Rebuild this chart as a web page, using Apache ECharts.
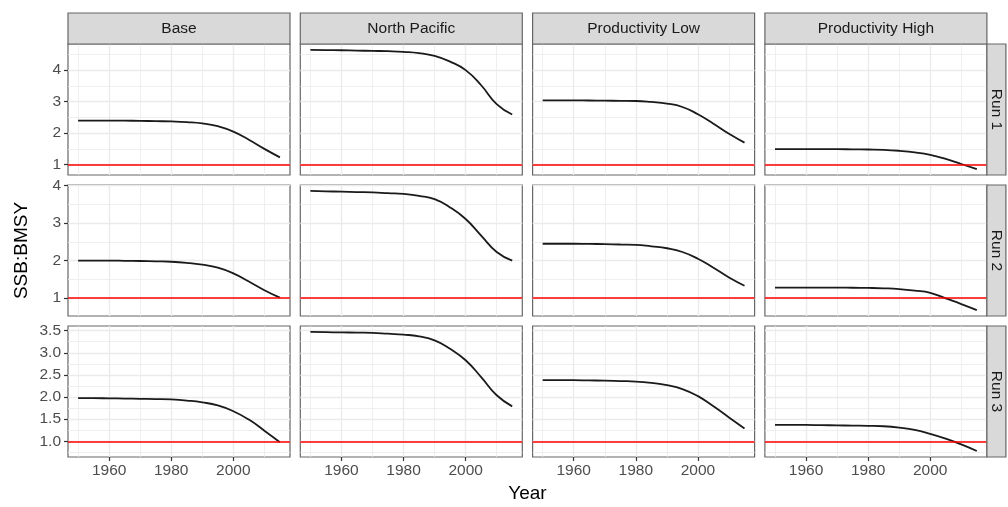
<!DOCTYPE html>
<html>
<head>
<meta charset="utf-8">
<script src="https://cdn.jsdelivr.net/npm/echarts@6/dist/echarts.min.js"></script>
<style>
  html, body { margin: 0; padding: 0; background: #ffffff; }
  #chart { width: 1008px; height: 507px; }
</style>
</head>
<body>
<div id="chart"></div>
<script>
// Years at which the stock trajectories are sampled
const years = [1950, 1955, 1960, 1965, 1970, 1975, 1980, 1985, 1990, 1995, 2000, 2005, 2010, 2015];

// Facet labels
const scenarios = ['Base', 'North Pacific', 'Productivity Low', 'Productivity High'];
const runs = ['Run 1', 'Run 2', 'Run 3'];

// SSB:BMSY trajectories, one array per scenario and run
const run1Base         = [2.40, 2.40, 2.40, 2.395, 2.39, 2.38, 2.37, 2.35, 2.31, 2.22, 2.05, 1.79, 1.50, 1.23];
const run1NorthPacific = [4.64, 4.635, 4.63, 4.62, 4.61, 4.60, 4.58, 4.54, 4.45, 4.27, 4.00, 3.52, 2.92, 2.59];
const run1ProdLow      = [3.04, 3.04, 3.04, 3.035, 3.03, 3.025, 3.02, 2.99, 2.94, 2.83, 2.60, 2.30, 1.98, 1.70];
const run1ProdHigh     = [1.49, 1.49, 1.49, 1.49, 1.49, 1.485, 1.48, 1.47, 1.44, 1.39, 1.31, 1.18, 1.02, 0.86];

const run2Base         = [2.00, 2.00, 2.00, 1.995, 1.99, 1.98, 1.97, 1.94, 1.89, 1.81, 1.66, 1.44, 1.21, 1.01];
const run2NorthPacific = [3.86, 3.85, 3.84, 3.83, 3.82, 3.80, 3.78, 3.73, 3.64, 3.42, 3.11, 2.67, 2.23, 2.00];
const run2ProdLow      = [2.45, 2.45, 2.45, 2.445, 2.44, 2.43, 2.42, 2.38, 2.33, 2.23, 2.05, 1.81, 1.55, 1.33];
const run2ProdHigh     = [1.28, 1.28, 1.28, 1.28, 1.28, 1.275, 1.27, 1.26, 1.24, 1.20, 1.14, 0.99, 0.84, 0.68];

const run3Base         = [1.975, 1.975, 1.97, 1.965, 1.96, 1.955, 1.945, 1.92, 1.88, 1.81, 1.68, 1.49, 1.24, 0.98];
const run3NorthPacific = [3.47, 3.465, 3.46, 3.455, 3.45, 3.43, 3.41, 3.37, 3.28, 3.09, 2.83, 2.45, 2.04, 1.79];
const run3ProdLow      = [2.38, 2.38, 2.38, 2.375, 2.37, 2.36, 2.35, 2.32, 2.27, 2.18, 2.02, 1.79, 1.54, 1.29];
const run3ProdHigh     = [1.37, 1.37, 1.37, 1.365, 1.36, 1.355, 1.35, 1.34, 1.31, 1.26, 1.17, 1.06, 0.93, 0.78];

// Reference level SSB = BMSY
const refLevel = 1;

// Tick labels and grid breaks
const xTicks = [1960, 1980, 2000];
const xMinor = [1950, 1970, 1990, 2010];
const yTicksRun1 = [1, 2, 3, 4];
const yTicksRun2 = [1, 2, 3, 4];
const yTicksRun3 = [1.0, 1.5, 2.0, 2.5, 3.0, 3.5];
const yMinorRun1 = [1.5, 2.5, 3.5, 4.5];
const yMinorRun2 = [1.5, 2.5, 3.5];
const yMinorRun3 = [0.75, 1.25, 1.75, 2.25, 2.75, 3.25];

const panelRows = [
  [run1Base, run1NorthPacific, run1ProdLow, run1ProdHigh],
  [run2Base, run2NorthPacific, run2ProdLow, run2ProdHigh],
  [run3Base, run3NorthPacific, run3ProdLow, run3ProdHigh]
];
const yTicksByRow = [yTicksRun1, yTicksRun2, yTicksRun3];
const yMinorByRow = [yMinorRun1, yMinorRun2, yMinorRun3];

// Layout of the facet grid
const FONT = '"Liberation Sans", Arial, Helvetica, sans-serif';
const colLeft = [68, 300.3, 532.6, 764.9];
const panelW = 222;
const rowTop = [44, 185, 326];
const panelH = 131;
const stripTop = 13;
const stripH = 31;
const stripW = 19;
const borderColor = '#666666';
const gridColor = '#EBEBEB';

// Axis extents with a 5% expansion, x shared, y free per row
function expand(lo, hi) {
  const r = hi - lo;
  return [lo - 0.05 * r, hi + 0.05 * r];
}
const xExt = expand(Math.min(...years), Math.max(...years));
const yExtByRow = panelRows.map(row => {
  const all = [].concat(...row, [refLevel]);
  return expand(Math.min(...all), Math.max(...all));
});

const grids = [], xAxes = [], yAxes = [], series = [], graphics = [];

panelRows.forEach((row, r) => {
  row.forEach((vals, c) => {
    const idx = grids.length;
    grids.push({
      left: colLeft[c], top: rowTop[r], width: panelW, height: panelH,
      show: true, backgroundColor: '#ffffff',
      borderColor: borderColor, borderWidth: 1.2,
      containLabel: false, outerBoundsMode: 'none'
    });
    const showX = r === panelRows.length - 1;
    const showY = c === 0;
    xAxes.push({
      type: 'value', gridIndex: idx, min: xExt[0], max: xExt[1],
      axisLine: { show: false, onZero: false },
      splitLine: { show: false },
      axisTick: { show: showX, customValues: xTicks, length: 4, lineStyle: { color: '#333333', width: 1.2 } },
      axisLabel: {
        show: showX, customValues: xTicks, margin: 6,
        color: '#4D4D4D', fontSize: 15.5, fontFamily: FONT,
        formatter: v => String(v)
      }
    });
    const yTicks = yTicksByRow[r];
    const decimals = yTicks.some(v => v % 1 !== 0) ? 1 : 0;
    yAxes.push({
      type: 'value', gridIndex: idx, min: yExtByRow[r][0], max: yExtByRow[r][1],
      axisLine: { show: false, onZero: false },
      splitLine: { show: false },
      axisTick: { show: showY, customValues: yTicks, length: 4, lineStyle: { color: '#333333', width: 1.2 } },
      axisLabel: {
        show: showY, customValues: yTicks, margin: 7,
        color: '#4D4D4D', fontSize: 15.5, fontFamily: FONT,
        formatter: v => Number(v).toFixed(decimals)
      }
    });

    // Panel grid lines, kept underneath the data
    const major = { color: gridColor, width: 1.4, type: 'solid' };
    const minor = { color: gridColor, width: 0.8, type: 'solid' };
    const gl = [];
    yMinorByRow[r].forEach(v => gl.push({ yAxis: v, lineStyle: minor }));
    xMinor.forEach(v => gl.push({ xAxis: v, lineStyle: minor }));
    yTicks.forEach(v => gl.push({ yAxis: v, lineStyle: major }));
    xTicks.forEach(v => gl.push({ xAxis: v, lineStyle: major }));
    series.push({
      type: 'line', xAxisIndex: idx, yAxisIndex: idx, data: [], z: 1,
      silent: true, animation: false,
      markLine: { z: 1, silent: true, symbol: 'none', label: { show: false }, animation: false, data: gl }
    });

    // Trajectory and reference line
    series.push({
      type: 'line', xAxisIndex: idx, yAxisIndex: idx, z: 3,
      name: scenarios[c] + ' ' + runs[r],
      data: years.map((y, k) => [y, vals[k]]),
      showSymbol: false, smooth: 0.5,
      lineStyle: { color: '#1A1A1A', width: 1.8 },
      animation: false, silent: true,
      markLine: {
        z: 4, silent: true, symbol: 'none', label: { show: false }, animation: false,
        lineStyle: { color: '#FF0000', width: 1.6, type: 'solid' },
        data: [{ yAxis: refLevel }]
      }
    });
  });
});

// Column strips
scenarios.forEach((name, c) => {
  graphics.push({
    type: 'rect', shape: { x: colLeft[c], y: stripTop, width: panelW, height: stripH },
    style: { fill: '#D9D9D9', stroke: borderColor, lineWidth: 1.2 }, z: 10
  });
  graphics.push({
    type: 'text', x: colLeft[c] + panelW / 2, y: stripTop + stripH / 2 + 0.5,
    style: { text: name, fill: '#1A1A1A', font: '15.5px ' + FONT, align: 'center', verticalAlign: 'middle' }, z: 11
  });
});

// Row strips
runs.forEach((name, r) => {
  const x0 = colLeft[3] + panelW;
  graphics.push({
    type: 'rect', shape: { x: x0, y: rowTop[r], width: stripW, height: panelH },
    style: { fill: '#D9D9D9', stroke: borderColor, lineWidth: 1.2 }, z: 10
  });
  graphics.push({
    type: 'text', x: x0 + stripW / 2, y: rowTop[r] + panelH / 2, rotation: -Math.PI / 2,
    style: { text: name, fill: '#1A1A1A', font: '15.5px ' + FONT, align: 'center', verticalAlign: 'middle' }, z: 11
  });
});

// Axis titles
graphics.push({
  type: 'text', x: 22, y: (rowTop[0] + rowTop[2] + panelH) / 2, rotation: Math.PI / 2,
  style: { text: 'SSB:BMSY', fill: '#000000', font: '19px ' + FONT, align: 'center', verticalAlign: 'middle' }
});
graphics.push({
  type: 'text', x: (colLeft[0] + colLeft[3] + panelW) / 2, y: 494,
  style: { text: 'Year', fill: '#000000', font: '19px ' + FONT, align: 'center', verticalAlign: 'middle' }
});

const chart = echarts.init(document.getElementById('chart'), null, { renderer: 'canvas' });
chart.setOption({
  backgroundColor: '#ffffff',
  animation: false,
  grid: grids,
  xAxis: xAxes,
  yAxis: yAxes,
  series: series,
  graphic: graphics
});
</script>
</body>
</html>
